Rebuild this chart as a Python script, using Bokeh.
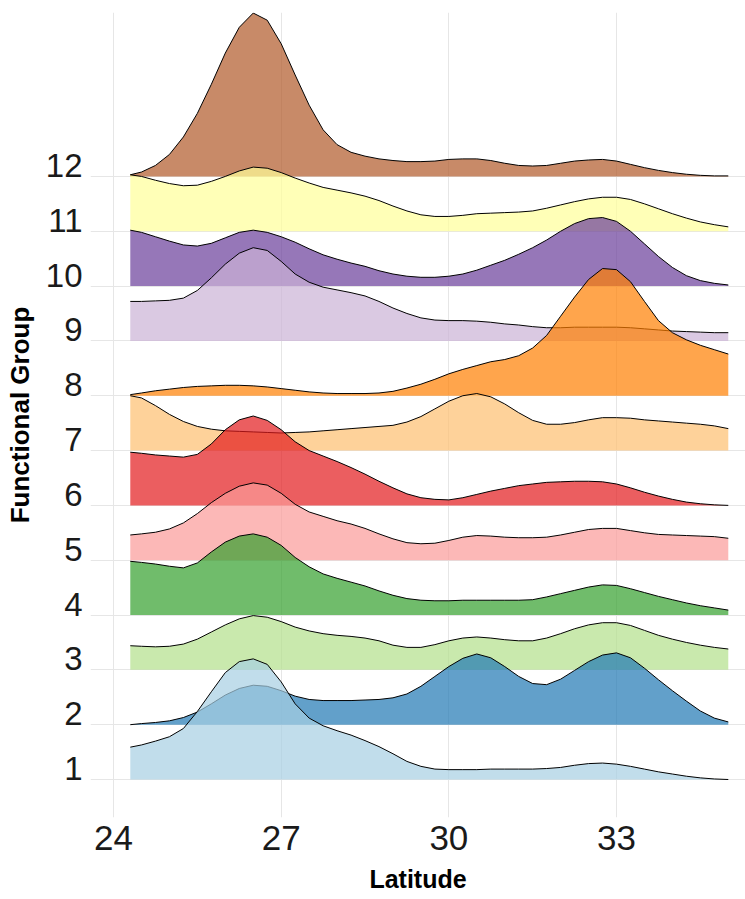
from bokeh.plotting import figure
from bokeh.models import FixedTicker, CustomJSTickFormatter, Range1d
from bokeh.embed import file_html
from bokeh.resources import INLINE

# Latitude grid shared by every density ridge
latitude = [24.3, 24.5, 24.75, 25.0, 25.25, 25.5, 25.75, 26.0, 26.25, 26.5, 26.75,
            27.0, 27.25, 27.5, 27.75, 28.0, 28.25, 28.5, 28.75, 29.0, 29.25, 29.5,
            29.75, 30.0, 30.25, 30.5, 30.75, 31.0, 31.25, 31.5, 31.75, 32.0, 32.25,
            32.5, 32.75, 33.0, 33.25, 33.5, 33.75, 34.0, 34.25, 34.5, 34.75, 35.0]

# Scaled density heights per functional group (in units of ridge spacing)
group_1 = [0.59, 0.63, 0.7, 0.78, 0.93, 1.24, 1.6, 1.95, 2.15, 2.2, 2.1, 1.78, 1.38, 1.12,
           0.98, 0.89, 0.81, 0.71, 0.6, 0.47, 0.33, 0.24, 0.19, 0.18, 0.18, 0.18, 0.19,
           0.19, 0.19, 0.19, 0.2, 0.22, 0.26, 0.29, 0.3, 0.28, 0.24, 0.19, 0.14, 0.1,
           0.06, 0.03, 0.01, 0.0]
group_2 = [0.0, 0.02, 0.04, 0.07, 0.13, 0.23, 0.38, 0.54, 0.66, 0.72, 0.7, 0.62, 0.52, 0.46,
           0.44, 0.44, 0.44, 0.45, 0.46, 0.49, 0.56, 0.7, 0.88, 1.06, 1.21, 1.29, 1.22,
           1.06, 0.88, 0.75, 0.73, 0.83, 0.99, 1.15, 1.27, 1.31, 1.22, 1.03, 0.82, 0.62,
           0.43, 0.25, 0.12, 0.05]
group_3 = [0.44, 0.43, 0.42, 0.43, 0.47, 0.56, 0.69, 0.82, 0.93, 0.99, 0.96, 0.88, 0.78,
           0.71, 0.66, 0.63, 0.61, 0.58, 0.53, 0.45, 0.41, 0.41, 0.46, 0.53, 0.58, 0.6,
           0.58, 0.55, 0.53, 0.53, 0.58, 0.66, 0.75, 0.82, 0.86, 0.86, 0.81, 0.72, 0.63,
           0.56, 0.5, 0.45, 0.41, 0.38]
group_4 = [0.98, 0.96, 0.93, 0.89, 0.86, 0.95, 1.15, 1.33, 1.44, 1.48, 1.42, 1.27, 1.05,
           0.88, 0.75, 0.67, 0.6, 0.53, 0.44, 0.36, 0.3, 0.27, 0.26, 0.26, 0.27, 0.27,
           0.27, 0.27, 0.27, 0.28, 0.33, 0.39, 0.45, 0.51, 0.55, 0.54, 0.48, 0.41, 0.34,
           0.28, 0.22, 0.17, 0.13, 0.09]
group_5 = [0.46, 0.48, 0.51, 0.57, 0.68, 0.85, 1.05, 1.22, 1.35, 1.41, 1.37, 1.22, 1.02,
           0.88, 0.8, 0.72, 0.66, 0.58, 0.48, 0.39, 0.32, 0.3, 0.31, 0.36, 0.42, 0.45,
           0.44, 0.42, 0.41, 0.41, 0.42, 0.46, 0.51, 0.56, 0.58, 0.58, 0.54, 0.5, 0.47,
           0.46, 0.45, 0.44, 0.43, 0.4]
group_6 = [0.97, 0.95, 0.92, 0.9, 0.88, 0.93, 1.12, 1.38, 1.56, 1.63, 1.55, 1.38, 1.16,
           1.0, 0.9, 0.8, 0.69, 0.57, 0.44, 0.32, 0.21, 0.14, 0.11, 0.1, 0.14, 0.2, 0.26,
           0.31, 0.36, 0.39, 0.42, 0.43, 0.44, 0.44, 0.43, 0.39, 0.32, 0.24, 0.17, 0.11,
           0.06, 0.03, 0.01, 0.0]
group_7 = [1.0, 0.96, 0.82, 0.66, 0.53, 0.44, 0.39, 0.36, 0.35, 0.34, 0.33, 0.32, 0.33,
           0.34, 0.36, 0.38, 0.4, 0.42, 0.44, 0.46, 0.52, 0.62, 0.76, 0.9, 1.0, 1.04,
           0.98, 0.85, 0.69, 0.55, 0.48, 0.48, 0.51, 0.56, 0.6, 0.6, 0.59, 0.56, 0.54,
           0.52, 0.5, 0.48, 0.45, 0.4]
group_8 = [0.02, 0.05, 0.09, 0.12, 0.15, 0.17, 0.18, 0.19, 0.19, 0.18, 0.16, 0.13, 0.1,
           0.07, 0.05, 0.04, 0.04, 0.04, 0.05, 0.08, 0.14, 0.21, 0.3, 0.4, 0.48, 0.55,
           0.62, 0.66, 0.73, 0.87, 1.1, 1.45, 1.8, 2.12, 2.32, 2.3, 2.08, 1.72, 1.37,
           1.15, 1.02, 0.92, 0.84, 0.76]
group_9 = [0.72, 0.72, 0.73, 0.74, 0.78, 0.92, 1.15, 1.4, 1.6, 1.7, 1.65, 1.45, 1.22,
           1.07, 0.98, 0.93, 0.88, 0.82, 0.72, 0.6, 0.5, 0.42, 0.38, 0.37, 0.37, 0.36,
           0.34, 0.31, 0.29, 0.26, 0.24, 0.24, 0.25, 0.25, 0.25, 0.25, 0.24, 0.22, 0.2,
           0.18, 0.17, 0.16, 0.15, 0.15]
group_10 = [1.02, 0.98, 0.9, 0.82, 0.75, 0.73, 0.78, 0.88, 0.98, 1.02, 0.98, 0.9, 0.8,
            0.68, 0.57, 0.49, 0.42, 0.36, 0.28, 0.22, 0.18, 0.16, 0.16, 0.18, 0.22, 0.29,
            0.38, 0.47, 0.58, 0.7, 0.84, 1.0, 1.14, 1.23, 1.25, 1.18, 1.0, 0.77, 0.54,
            0.34, 0.19, 0.1, 0.05, 0.02]
group_11 = [1.03, 1.0, 0.93, 0.87, 0.83, 0.84, 0.91, 1.0, 1.1, 1.17, 1.15, 1.07, 0.97,
            0.88, 0.8, 0.75, 0.7, 0.64, 0.56, 0.46, 0.37, 0.3, 0.27, 0.27, 0.29, 0.32,
            0.33, 0.34, 0.35, 0.37, 0.42, 0.48, 0.54, 0.59, 0.62, 0.62, 0.58, 0.5, 0.41,
            0.32, 0.24, 0.17, 0.12, 0.08]
group_12 = [0.03, 0.08, 0.2, 0.4, 0.72, 1.15, 1.68, 2.25, 2.72, 2.98, 2.85, 2.42, 1.85,
            1.3, 0.85, 0.58, 0.44, 0.37, 0.32, 0.29, 0.27, 0.27, 0.28, 0.31, 0.32, 0.32,
            0.29, 0.24, 0.2, 0.19, 0.2, 0.24, 0.28, 0.3, 0.31, 0.28, 0.22, 0.16, 0.11,
            0.07, 0.04, 0.02, 0.01, 0.01]

groups = [1, 2, 3, 4, 5, 6, 7, 8, 9, 10, 11, 12]
densities = [group_1, group_2, group_3, group_4, group_5, group_6,
             group_7, group_8, group_9, group_10, group_11, group_12]
palette = ["#A6CEE3", "#1F78B4", "#B2DF8A", "#33A02C", "#FB9A99", "#E31A1C",
           "#FDBF6F", "#FF7F00", "#CAB2D6", "#6A3D9A", "#FFFF99", "#B15928"]
x_ticks = [24, 27, 30, 33]

LABEL_SHIFT = 0.2  # group labels sit just above their baseline

p = figure(width=745, height=899, output_backend="svg", toolbar_location=None,
           x_range=Range1d(23.588, 35.308), y_range=Range1d(0.307, 14.99),
           min_border_left=90, min_border_right=0, min_border_top=12,
           min_border_bottom=82)
p.outline_line_color = None
p.background_fill_color = "white"
p.border_fill_color = "white"

# Ridges: upper groups first so lower ridges overlap them
for g, dens, col in reversed(list(zip(groups, densities, palette))):
    top = [g + d for d in dens]
    base = [g] * len(dens)
    p.varea(x=latitude, y1=base, y2=top, fill_color=col, fill_alpha=0.7)
    p.line(x=latitude, y=top, line_color="black", line_width=1,
           line_join="round")

# Axes
p.xaxis.ticker = FixedTicker(ticks=x_ticks)
p.yaxis.ticker = FixedTicker(ticks=[g + LABEL_SHIFT for g in groups])
p.yaxis.formatter = CustomJSTickFormatter(code="return Math.round(tick - 0.2).toString();")
p.ygrid.ticker = FixedTicker(ticks=groups)
p.xgrid.ticker = FixedTicker(ticks=x_ticks)
for grid in (p.xgrid, p.ygrid):
    grid.grid_line_color = "#E6E6E6"
    grid.grid_line_width = 1

for ax in (p.xaxis, p.yaxis):
    ax.axis_line_color = None
    ax.major_tick_line_color = None
    ax.minor_tick_line_color = None
    ax.major_label_text_font = "Liberation Sans"
    ax.major_label_text_color = "#1A1A1A"
    ax.axis_label_text_font = "Liberation Sans"
    ax.axis_label_text_font_style = "bold"
    ax.axis_label_text_color = "black"
    ax.major_label_standoff = 2

p.xaxis.major_label_text_font_size = "35px"
p.yaxis.major_label_text_font_size = "33px"
p.xaxis.axis_label = "Latitude"
p.yaxis.axis_label = "Functional Group"
p.xaxis.axis_label_text_font_size = "25px"
p.yaxis.axis_label_text_font_size = "26px"
p.xaxis.axis_label_standoff = 12
p.yaxis.axis_label_standoff = 8

open("out.html", "w").write(file_html(p, INLINE))
